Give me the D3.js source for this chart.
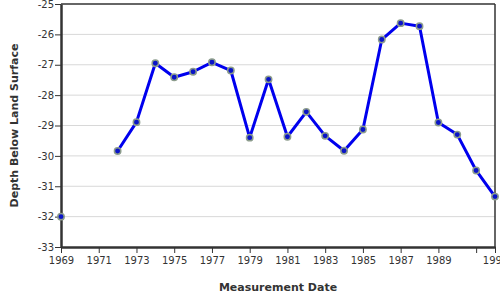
<!DOCTYPE html>
<html><head><meta charset="utf-8">
<script src="https://cdn.jsdelivr.net/npm/d3@7"></script>
<style>body{margin:0;background:#fff}svg{display:block}</style>
</head><body>
<svg id="c" width="500" height="300"></svg>
<script>
const years = [1969,1970,1971,1972,1973,1974,1975,1976,1977,1978,1979,1980,1981,1982,1983,1984,1985,1986,1987,1988,1989,1990,1991,1992];
const depths = [-32.0,null,null,-29.84,-28.89,-26.95,-27.41,-27.23,-26.92,-27.19,-29.40,-27.48,-29.37,-28.55,-29.34,-29.83,-29.13,-26.17,-25.63,-25.73,-28.90,-29.30,-30.48,-31.34];
const xTickValues = [1969,1971,1973,1975,1977,1979,1981,1983,1985,1987,1989,1991,1992];
const xTickLabels = ["1969","1971","1973","1975","1977","1979","1981","1983","1985","1987","1989","","1992"];
const yTickValues = [-25,-26,-27,-28,-29,-30,-31,-32,-33];
const xTitle = "Measurement Date";
const yTitle = "Depth Below Land Surface";

const svg = d3.select("#c");
const m = {l:61, r:5, t:4, b:53};
const W = 500, H = 300;
const x = d3.scaleLinear().domain([1969,1992]).range([m.l, W-m.r]);
const y = d3.scaleLinear().domain([-33,-25]).range([H-m.b, m.t]);
const font = "DejaVu Sans, Verdana, sans-serif";

// gridlines
svg.append("g").selectAll("line").data(yTickValues.filter(v=>v!==-33 && v!==-25)).join("line")
  .attr("x1", m.l).attr("x2", W-m.r).attr("y1", d=>y(d)).attr("y2", d=>y(d))
  .attr("stroke", "#d8d8d8").attr("stroke-width", 1);

// frame top/right
svg.append("line").attr("x1", m.l).attr("x2", W-m.r).attr("y1", m.t).attr("y2", m.t).attr("stroke","#333").attr("stroke-width",1.5);
svg.append("line").attr("x1", W-m.r).attr("x2", W-m.r).attr("y1", m.t).attr("y2", H-m.b).attr("stroke","#333").attr("stroke-width",1.5);

// axes
const yAxis = svg.append("g").attr("transform", `translate(${m.l},0)`)
  .call(d3.axisLeft(y).tickValues(yTickValues).tickFormat(d=>String(d).replace("\u2212","-")).tickSize(6).tickSizeOuter(0));
const xAxis = svg.append("g").attr("transform", `translate(0,${H-m.b})`)
  .call(d3.axisBottom(x).tickValues(xTickValues).tickFormat((d,i)=>xTickLabels[i]).tickSize(6).tickSizeOuter(0));
[yAxis, xAxis].forEach(g=>{
  g.select(".domain").attr("stroke","#333").attr("stroke-width",2.5);
  g.selectAll(".tick line").attr("stroke","#333").attr("stroke-width",1);
  g.selectAll(".tick text").attr("fill","#333").attr("font-family",font).attr("font-size",10);
});
yAxis.selectAll(".tick text").attr("x",-7);
xAxis.selectAll(".tick text").attr("y",10);

// line
const pts = years.map((yr,i)=>({yr, v:depths[i]}));
const line = d3.line().defined(d=>d.v!==null).x(d=>x(d.yr)).y(d=>y(d.v));
svg.append("path").datum(pts).attr("d", line).attr("fill","none")
  .attr("stroke","#0000ee").attr("stroke-width",3).attr("stroke-linejoin","round");

// markers
svg.append("g").selectAll("circle").data(pts.filter(d=>d.v!==null)).join("circle")
  .attr("cx", d=>x(d.yr)).attr("cy", d=>y(d.v)).attr("r", 3.2)
  .attr("fill","#0a14c8").attr("stroke","#8c9c8c").attr("stroke-width",1.5);

// titles
svg.append("text").attr("x", (m.l+W-m.r)/2).attr("y", 291).attr("text-anchor","middle")
  .attr("font-family",font).attr("font-size",11).attr("font-weight","bold").attr("fill","#333").text(xTitle);
svg.append("text").attr("transform", `translate(18,${(m.t+H-m.b)/2}) rotate(-90)`).attr("text-anchor","middle")
  .attr("font-family",font).attr("font-size",11).attr("font-weight","bold").attr("fill","#333").text(yTitle);
</script>
</body></html>
